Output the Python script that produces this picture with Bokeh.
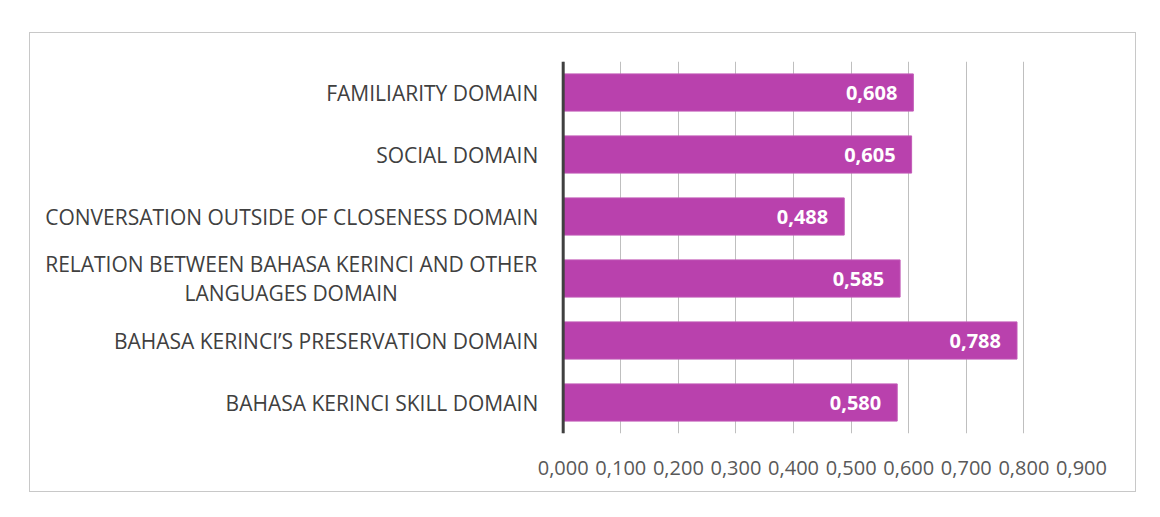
from bokeh.plotting import figure
from bokeh.models import ColumnDataSource, FactorRange, Range1d, FixedTicker, CustomJSTickFormatter, LabelSet, Span
from bokeh.core.properties import value
from bokeh.embed import file_html
from bokeh.resources import INLINE

categories = [
    "BAHASA KERINCI SKILL DOMAIN",
    "BAHASA KERINCI\u2019S PRESERVATION DOMAIN",
    "RELATION BETWEEN BAHASA KERINCI AND OTHER\nLANGUAGES DOMAIN",
    "CONVERSATION OUTSIDE OF CLOSENESS DOMAIN",
    "SOCIAL DOMAIN",
    "FAMILIARITY DOMAIN",
]
values = [0.580, 0.788, 0.585, 0.488, 0.605, 0.608]
value_labels = ["0,580", "0,788", "0,585", "0,488", "0,605", "0,608"]
x_ticks = [0.0, 0.1, 0.2, 0.3, 0.4, 0.5, 0.6, 0.7, 0.8, 0.9]

single = [i for i, c in enumerate(categories) if "\n" not in c]
multi = [i for i, c in enumerate(categories) if "\n" in c]

src = ColumnDataSource(dict(cat=categories, val=values, lab=value_labels))
single_src = ColumnDataSource(dict(x=[0.0] * len(single), cat=[categories[i] for i in single]))
multi_src = ColumnDataSource(dict(x=[0.0] * len(multi), cat=[categories[i] for i in multi]))

p = figure(width=1107, height=460, output_backend="svg", toolbar_location=None,
           y_range=FactorRange(factors=categories, range_padding=0),
           x_range=Range1d(-0.925, 0.9),
           min_border_left=0, min_border_top=28, min_border_right=56, min_border_bottom=60)
p.margin = (32, 0, 0, 29)
p.styles = {"border": "1px solid #c8c8c8"}
p.outline_line_color = None
p.background_fill_color = "white"
p.border_fill_color = "white"
p.yaxis.visible = False

p.xgrid.grid_line_color = "#BFBFBF"
p.xgrid.grid_line_width = 1
p.ygrid.grid_line_color = None

p.hbar(y="cat", right="val", left=0, height=0.6, source=src,
       fill_color="#B941AD", line_color="#C25BB7", line_width=1)

p.add_layout(Span(location=0, dimension="height", line_color="#404040", line_width=3))

labels = LabelSet(x="val", y="cat", text="lab", source=src, x_offset=-16,
                  text_align="right", text_baseline="middle", text_color="white",
                  text_font=value("Open Sans"), text_font_style="bold", text_font_size="20px")
p.add_layout(labels)

p.text(x="x", y="cat", text="cat", source=single_src, x_offset=-25,
       text_align="right", text_baseline="middle", text_color="#404040",
       text_font=value("Open Sans"), text_font_size="21px")
p.text(x="x", y="cat", text="cat", source=multi_src, x_offset=-272,
       text_align="center", text_baseline="middle", text_color="#404040",
       text_font=value("Open Sans"), text_font_size="21px", text_line_height=1.05)

p.xaxis.ticker = FixedTicker(ticks=x_ticks)
p.xaxis.formatter = CustomJSTickFormatter(code="return tick.toFixed(3).replace('.', ',');")
p.xaxis.axis_line_color = None
p.xaxis.major_tick_line_color = None
p.xaxis.minor_tick_line_color = None
p.xaxis.major_label_standoff = 21
p.xaxis.major_label_text_font = "Open Sans"
p.xaxis.major_label_text_font_size = "20px"
p.xaxis.major_label_text_color = "#595959"

open("out.html", "w").write(file_html(p, INLINE))
